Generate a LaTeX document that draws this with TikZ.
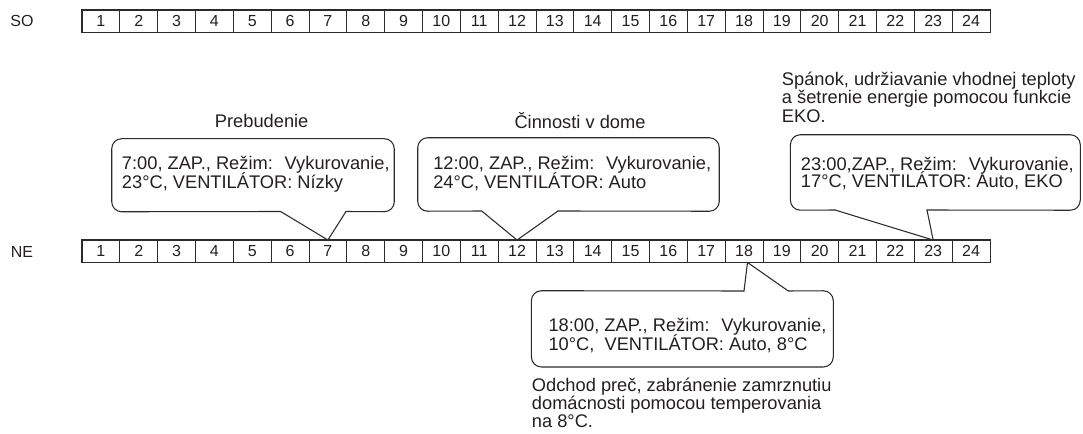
\documentclass[tikz,border=0pt]{standalone}
\usepackage{fontspec}
\setmainfont{Liberation Sans}
\definecolor{linec}{HTML}{2B2B2B}
\definecolor{txt}{HTML}{231F20}
\begin{document}
\begin{tikzpicture}[x=0.75pt,y=-0.75pt,
  cell/.style={draw=linec, line width=0.5pt, minimum width=28.37pt, minimum height=16.3pt, inner sep=0pt, font=\fontsize{12}{14}\selectfont, text=txt},
  rowframe/.style={draw=linec, line width=1pt},
  rowlbl/.style={inner sep=0pt, font=\fontsize{12}{14}\selectfont, text=txt},
  txtline/.style={anchor=base west, inner sep=0pt, font=\fontsize{13.7}{16}\selectfont, text=txt},
  title/.style={anchor=base, inner sep=0pt, font=\fontsize{13.7}{16}\selectfont, text=txt},
  boxstyle/.style={draw=none, inner sep=0pt},
  callline/.style={draw=linec, line width=0.8pt, line join=round, line cap=round}
]
\useasboundingbox (0,0) rectangle (1083,434);

% rows of hours
\foreach \i in {1,...,24} {
  \node[cell] (so\i) at ({82+(\i-0.5)*37.83}, 21.15) {\i};
  \node[cell] (ne\i) at ({82+(\i-0.5)*37.83}, 251.25) {\i};
}
\draw[rowframe] (so1.north west) rectangle (so24.south east);
\draw[rowframe] (ne1.north west) rectangle (ne24.south east);
\node[rowlbl] (lso) at (22,21) {SO};
\node[rowlbl] (lne) at (22,251.5) {NE};

% callout 7:00
\node[boxstyle, minimum width=211.5pt, minimum height=54.4pt] (c7) at (253,175.25) {};
\coordinate (c7a) at (280.6,211.5);
\coordinate (c7b) at (346,211.5);
\draw[callline, rounded corners=7.5pt] (c7a) -- (c7.south west) -- (c7.north west) -- (c7.north east) -- (c7.south east) -- (c7b);
\draw[callline] (c7a) -- (ne7.north) -- (c7b);
\node[txtline] (t7a) at (121.7,170) {7:00, ZAP., Režim:~ Vykurovanie,};
\node[txtline] (t7b) at (121.7,188.5) {23°C, VENTILÁTOR: Nízky};
\node[title] (h7) at (261.7,127.7) {Prebudenie};

% callout 12:00
\node[boxstyle, minimum width=225.75pt, minimum height=54.75pt] (c12) at (568.5,174.5) {};
\coordinate (c12a) at (481.7,211);
\coordinate (c12b) at (558,211);
\draw[callline, rounded corners=7.5pt] (c12a) -- (c12.south west) -- (c12.north west) -- (c12.north east) -- (c12.south east) -- (c12b);
\draw[callline] (c12a) -- (ne12.north) -- (c12b);
\node[txtline] (t12a) at (433,170) {12:00, ZAP., Režim:~ Vykurovanie,};
\node[txtline] (t12b) at (433,188.5) {24°C, VENTILÁTOR: Auto};
\node[title] (h12) at (580,128.3) {Činnosti v dome};

% callout 23:00
\node[boxstyle, minimum width=217pt, minimum height=56.25pt] (c23) at (935.35,172.5) {};
\coordinate (c23a) at (835,210);
\coordinate (c23b) at (927,210);
\draw[callline, rounded corners=7.5pt] (c23a) -- (c23.south west) -- (c23.north west) -- (c23.north east) -- (c23.south east) -- (c23b);
\draw[callline] (c23a) -- (ne23.north) -- (c23b);
\node[txtline] (t23a) at (800.7,170.5) {23:00,ZAP., Režim:~ Vykurovanie,};
\node[txtline] (t23b) at (800.7,188) {17°C, VENTILÁTOR: Auto, EKO};
\node[txtline] (d23a) at (781.7,85.7) {Spánok, udržiavanie vhodnej teploty};
\node[txtline] (d23b) at (781.7,104) {a šetrenie energie pomocou funkcie};
\node[txtline] (d23c) at (781.7,122.3) {EKO.};

% callout 18:00
\node[boxstyle, minimum width=226pt, minimum height=56.8pt] (c18) at (682.35,328.85) {};
\coordinate (c18a) at (744,291);
\coordinate (c18b) at (788.3,291);
\draw[callline, rounded corners=7.5pt] (c18a) -- (c18.north west) -- (c18.south west) -- (c18.south east) -- (c18.north east) -- (c18b);
\draw[callline] (c18a) -- ([xshift=2.6pt]ne18.south) -- (c18b);
\node[txtline] (t18a) at (548.3,331.7) {18:00, ZAP., Režim:~ Vykurovanie,};
\node[txtline] (t18b) at (548.3,351) {10°C,~ VENTILÁTOR: Auto, 8°C};
\node[txtline] (d18a) at (531.7,391.5) {Odchod preč, zabránenie zamrznutiu};
\node[txtline] (d18b) at (531.7,410) {domácnosti pomocou temperovania};
\node[txtline] (d18c) at (531.7,428) {na 8°C.};
\end{tikzpicture}
\end{document}
